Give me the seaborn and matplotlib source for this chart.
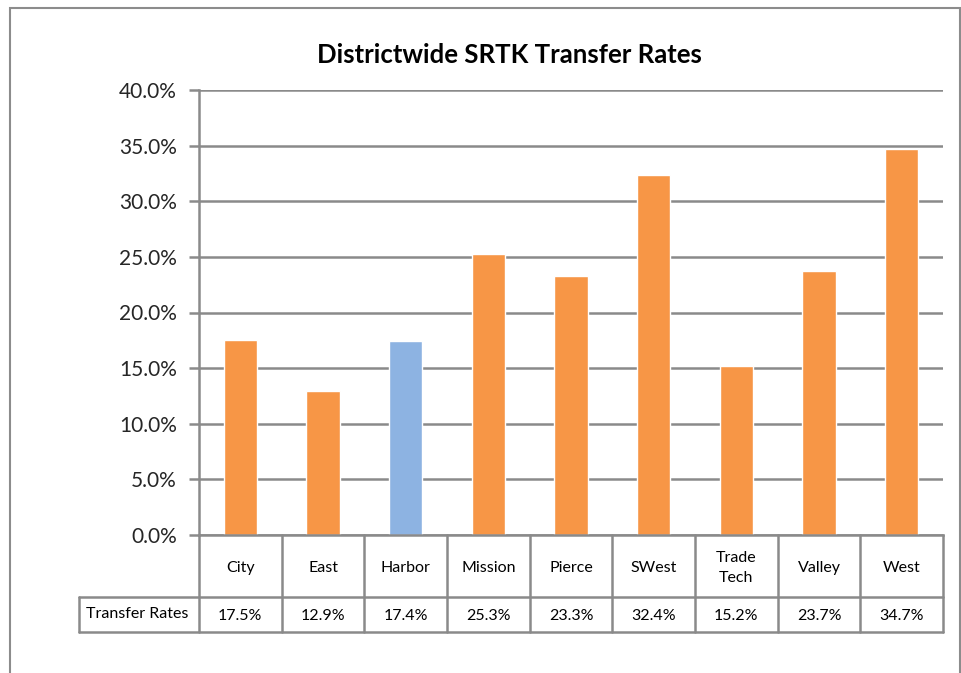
import numpy as np
import seaborn as sns
import matplotlib.pyplot as plt
from matplotlib.patches import Rectangle
from matplotlib.lines import Line2D
import matplotlib.ticker as mtick

colleges = ['City', 'East', 'Harbor', 'Mission', 'Pierce', 'SWest', 'Trade Tech', 'Valley', 'West']
col_labels = ['City', 'East', 'Harbor', 'Mission', 'Pierce', 'SWest', 'Trade\nTech', 'Valley', 'West']
rates = [17.5, 12.9, 17.4, 25.3, 23.3, 32.4, 15.2, 23.7, 34.7]
series_name = 'Transfer Rates'
highlight = 'Harbor'

orange = '#F79646'
blue = '#8DB3E2'
line_col = '#8A8A8A'

sns.set_theme(style='white')
plt.rcParams['font.family'] = ['Lato', 'DejaVu Sans']

W, H = 961, 673
fig = plt.figure(figsize=(W / 100, H / 100), dpi=100)

# plot area in pixel coordinates
left, right, top, bottom = 199, 943, 90, 535
ax = fig.add_axes([left / W, 1 - bottom / H, (right - left) / W, (bottom - top) / H])

colors = {c: (blue if c == highlight else orange) for c in colleges}
sns.barplot(x=colleges, y=rates, hue=colleges, palette=colors, legend=False,
            width=0.4, saturation=1, ax=ax)

ax.set_ylim(0, 40)
ax.set_xlim(-0.5, len(colleges) - 0.5)
ax.set_yticks(np.arange(0, 41, 5))
ax.yaxis.set_major_formatter(mtick.FuncFormatter(lambda v, p: f'{v:.1f}%'))
ax.tick_params(axis='y', labelsize=15, length=7, width=1.8, color=line_col, pad=9, left=True)
ax.tick_params(axis='x', bottom=False, labelbottom=False)
ax.set_xlabel('')
ax.set_ylabel('')
ax.yaxis.grid(True, color=line_col, linewidth=1.8)
ax.set_axisbelow(True)
for s in ['top', 'right']:
    ax.spines[s].set_visible(False)
for s in ['left', 'bottom']:
    ax.spines[s].set_color(line_col)
    ax.spines[s].set_linewidth(1.8)

# data table below the axis
row1_bot = 597   # bottom of category row
row2_bot = 632   # bottom of value row
tbl_left = 79

def fx(px):
    return px / W

def fy(py):
    return 1 - py / H

cell_w = (right - left) / len(colleges)
lw = 1.8
for i in range(len(colleges) + 1):
    x = left + i * cell_w
    fig.add_artist(Line2D([fx(x), fx(x)], [fy(bottom), fy(row2_bot)], color=line_col, lw=lw))
fig.add_artist(Line2D([fx(tbl_left), fx(tbl_left)], [fy(row1_bot), fy(row2_bot)], color=line_col, lw=lw))
fig.add_artist(Line2D([fx(tbl_left), fx(right)], [fy(row1_bot), fy(row1_bot)], color=line_col, lw=lw))
fig.add_artist(Line2D([fx(tbl_left), fx(right)], [fy(row2_bot), fy(row2_bot)], color=line_col, lw=lw))

for i, (lab, v) in enumerate(zip(col_labels, rates)):
    cx = left + (i + 0.5) * cell_w
    fig.text(fx(cx), fy((bottom + row1_bot) / 2 + 2), lab, ha='center', va='center',
             fontsize=11.5, color='black', linespacing=1.5)
    fig.text(fx(cx), fy((row1_bot + row2_bot) / 2 + 2), f'{v:.1f}%', ha='center', va='center',
             fontsize=11.5, color='black')
fig.text(fx((tbl_left + left) / 2 - 2), fy((row1_bot + row2_bot) / 2 - 1), series_name,
         ha='center', va='center', fontsize=11.5, color='black')

# title
fig.text(fx(509), fy(55), 'Districtwide SRTK Transfer Rates', ha='center', va='center',
         fontsize=18.5, fontweight='bold', color='black')

# outer chart border
fig.add_artist(Rectangle((fx(10), fy(690)), fx(950), (690 - 8) / H, fill=False,
                         edgecolor='#8C8C8C', lw=1.5, transform=fig.transFigure))

fig.savefig('out.png', dpi=100)
